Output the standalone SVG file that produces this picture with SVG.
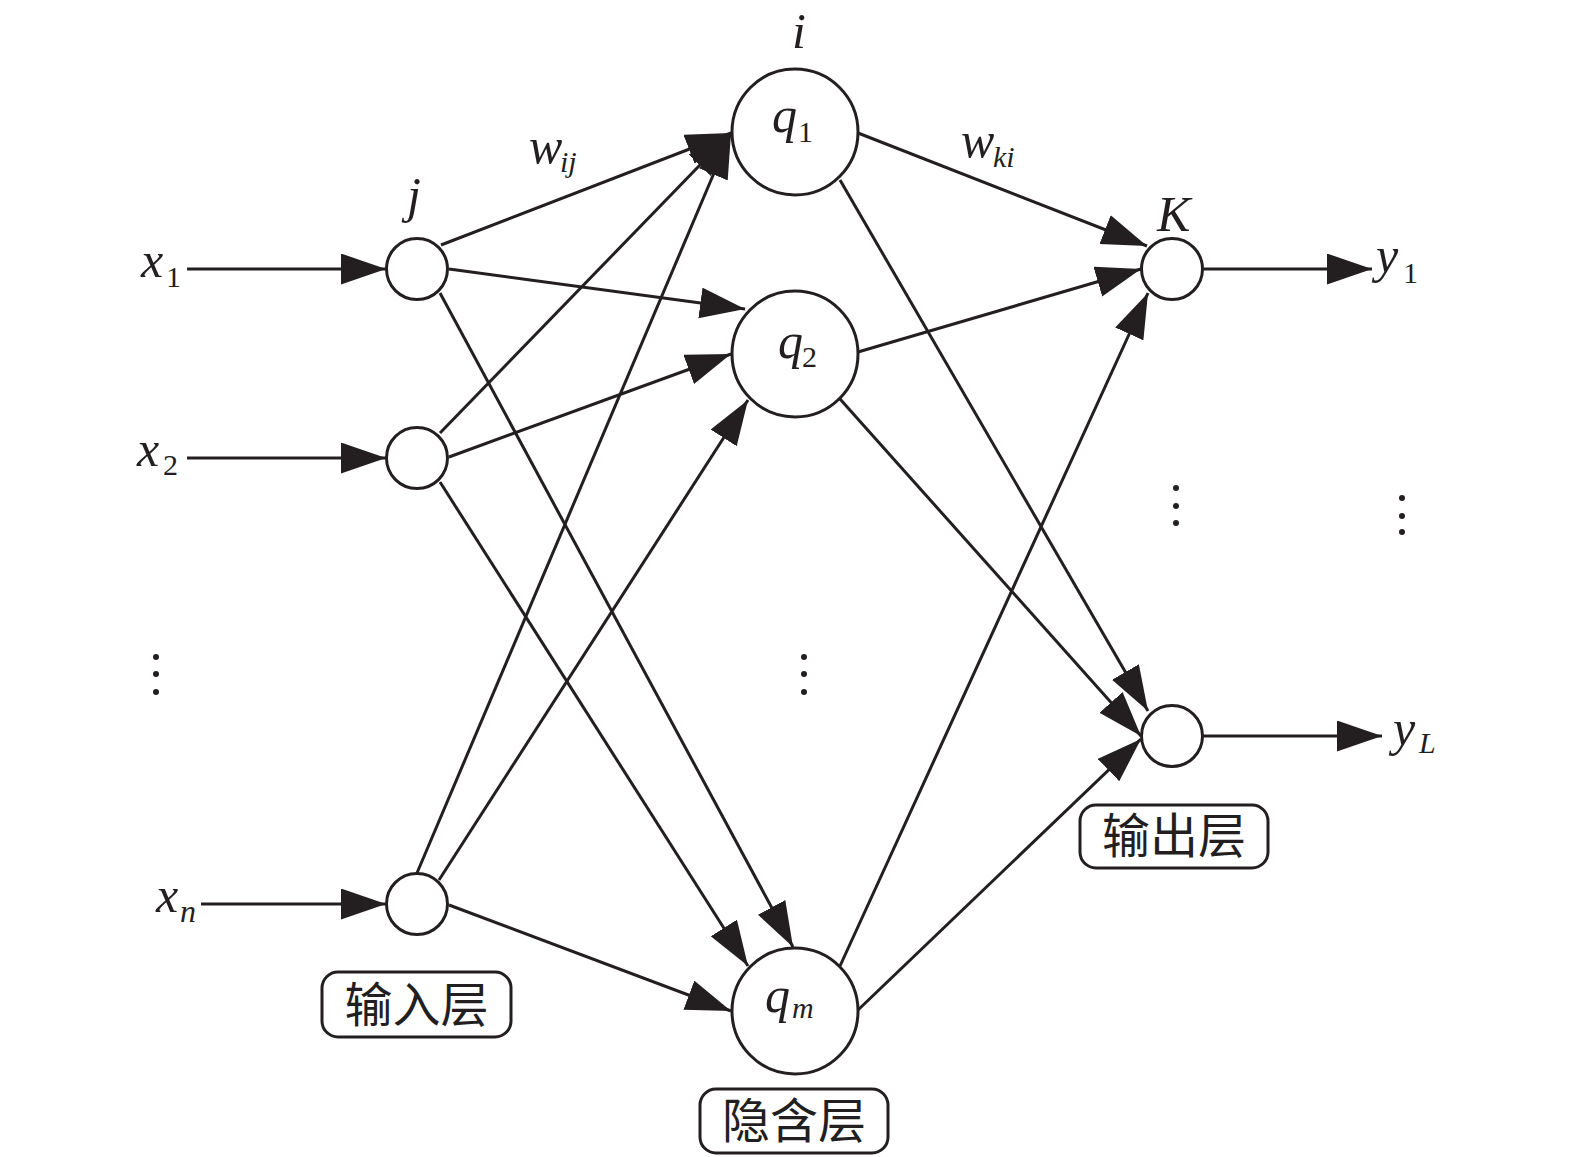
<svg xmlns="http://www.w3.org/2000/svg" width="1575" height="1157" viewBox="0 0 1575 1157">
<style>
.node{fill:#fff;stroke:#231f20;stroke-width:3}
.edge{stroke:#231f20;stroke-width:3;fill:none}
.m{font-family:"Liberation Serif",serif;font-style:italic;fill:#231f20}
.d{font-family:"Liberation Serif",serif;fill:#231f20}
.box{fill:#fff;stroke:#231f20;stroke-width:3}
.cn{font-family:"Noto Sans CJK SC",sans-serif;font-size:48px;fill:#231f20;text-anchor:middle}
.dot{fill:#231f20}
</style>
<defs>
<marker id="ah" markerUnits="userSpaceOnUse" markerWidth="46" markerHeight="32" refX="45" refY="15.5" orient="auto">
<path d="M0,0 L45,15.5 L0,31 z" fill="#231f20"/>
</marker>
</defs>
<rect width="1575" height="1157" fill="#fff"/>
<g id="nodes">
<g id="in1"><circle class="node" cx="417" cy="269" r="30.5"/></g>
<g id="in2"><circle class="node" cx="417" cy="458" r="30.5"/></g>
<g id="inn"><circle class="node" cx="417" cy="904" r="30.5"/></g>
<g id="h1"><circle class="node" cx="795" cy="132" r="63"/>
<text class="m" x="772" y="132" font-size="50">q</text><text class="d" x="798" y="142" font-size="30">1</text></g>
<g id="h2"><circle class="node" cx="795" cy="354" r="63"/>
<text class="m" x="778" y="358" font-size="50">q</text><text class="d" x="802" y="367" font-size="30">2</text></g>
<g id="hm"><circle class="node" cx="795" cy="1011" r="63"/>
<text class="m" x="765" y="1012" font-size="50">q</text><text class="m" x="792" y="1018" font-size="30">m</text></g>
<g id="o1"><circle class="node" cx="1172" cy="269" r="30.5"/></g>
<g id="oL"><circle class="node" cx="1172" cy="736" r="30.5"/></g>
</g>
<g id="connectors">
<line class="edge" x1="187" y1="269" x2="386" y2="269" marker-end="url(#ah)"/>
<line class="edge" x1="187" y1="458" x2="386" y2="458" marker-end="url(#ah)"/>
<line class="edge" x1="201" y1="904" x2="386" y2="904" marker-end="url(#ah)"/>
<line class="edge" x1="441" y1="245" x2="731" y2="133" marker-end="url(#ah)"/>
<line class="edge" x1="449" y1="269" x2="745" y2="309" marker-end="url(#ah)"/>
<line class="edge" x1="440" y1="293" x2="793" y2="947" marker-end="url(#ah)"/>
<line class="edge" x1="440" y1="433" x2="731" y2="133" marker-end="url(#ah)"/>
<line class="edge" x1="449" y1="457" x2="731" y2="354" marker-end="url(#ah)"/>
<line class="edge" x1="440" y1="482" x2="748" y2="966" marker-end="url(#ah)"/>
<line class="edge" x1="417" y1="873" x2="731" y2="133" marker-end="url(#ah)"/>
<line class="edge" x1="439" y1="880" x2="748" y2="400" marker-end="url(#ah)"/>
<line class="edge" x1="449" y1="905" x2="731" y2="1011" marker-end="url(#ah)"/>
<line class="edge" x1="858" y1="133" x2="1147" y2="246" marker-end="url(#ah)"/>
<line class="edge" x1="840" y1="180" x2="1148" y2="711" marker-end="url(#ah)"/>
<line class="edge" x1="858" y1="352" x2="1141" y2="269" marker-end="url(#ah)"/>
<line class="edge" x1="840" y1="399" x2="1141" y2="736" marker-end="url(#ah)"/>
<line class="edge" x1="840" y1="966" x2="1148" y2="293" marker-end="url(#ah)"/>
<line class="edge" x1="858" y1="1010" x2="1141" y2="739" marker-end="url(#ah)"/>
<line class="edge" x1="1203" y1="269" x2="1372" y2="269" marker-end="url(#ah)"/>
<line class="edge" x1="1203" y1="736" x2="1382" y2="736" marker-end="url(#ah)"/>
</g>
<g id="labels">
<text class="m" x="141" y="277" font-size="50">x</text><text class="d" x="166" y="287" font-size="30">1</text>
<text class="m" x="137" y="466" font-size="50">x</text><text class="d" x="163" y="475" font-size="30">2</text>
<text class="m" x="156" y="912" font-size="50">x</text><text class="m" x="180" y="922" font-size="32">n</text>
<text class="m" x="414" y="212" font-size="50" text-anchor="middle">j</text>
<text class="m" x="799" y="48" font-size="50" text-anchor="middle">i</text>
<text class="m" x="1157" y="231" font-size="50">K</text>
<text class="m" x="529" y="163" font-size="50">w</text><text class="m" x="560" y="172" font-size="30">ij</text>
<text class="m" x="961" y="157" font-size="50">w</text><text class="m" x="993" y="167" font-size="30">ki</text>
<text class="m" x="1376" y="272" font-size="50">y</text><text class="d" x="1403" y="283" font-size="30">1</text>
<text class="m" x="1393" y="745" font-size="50">y</text><text class="m" x="1419" y="753" font-size="30">L</text>
</g>
<g id="ellipses">
<circle class="dot" cx="156" cy="657" r="3"/><circle class="dot" cx="156" cy="674" r="3"/><circle class="dot" cx="156" cy="692" r="3"/>
<circle class="dot" cx="804" cy="657" r="3"/><circle class="dot" cx="804" cy="674" r="3"/><circle class="dot" cx="804" cy="692" r="3"/>
<circle class="dot" cx="1176" cy="488" r="3"/><circle class="dot" cx="1176" cy="506" r="3"/><circle class="dot" cx="1176" cy="523" r="3"/>
<circle class="dot" cx="1402" cy="498" r="3"/><circle class="dot" cx="1402" cy="516" r="3"/><circle class="dot" cx="1402" cy="532" r="3"/>
</g>
<g id="layer-input"><rect class="box" x="322" y="972" width="189" height="65" rx="16"/><text class="cn" x="416.5" y="1022">输入层</text></g>
<g id="layer-hidden"><rect class="box" x="700" y="1089" width="188" height="64" rx="16"/><text class="cn" x="794" y="1138">隐含层</text></g>
<g id="layer-output"><rect class="box" x="1080" y="805" width="188" height="63" rx="16"/><text class="cn" x="1174" y="853">输出层</text></g>
</svg>
